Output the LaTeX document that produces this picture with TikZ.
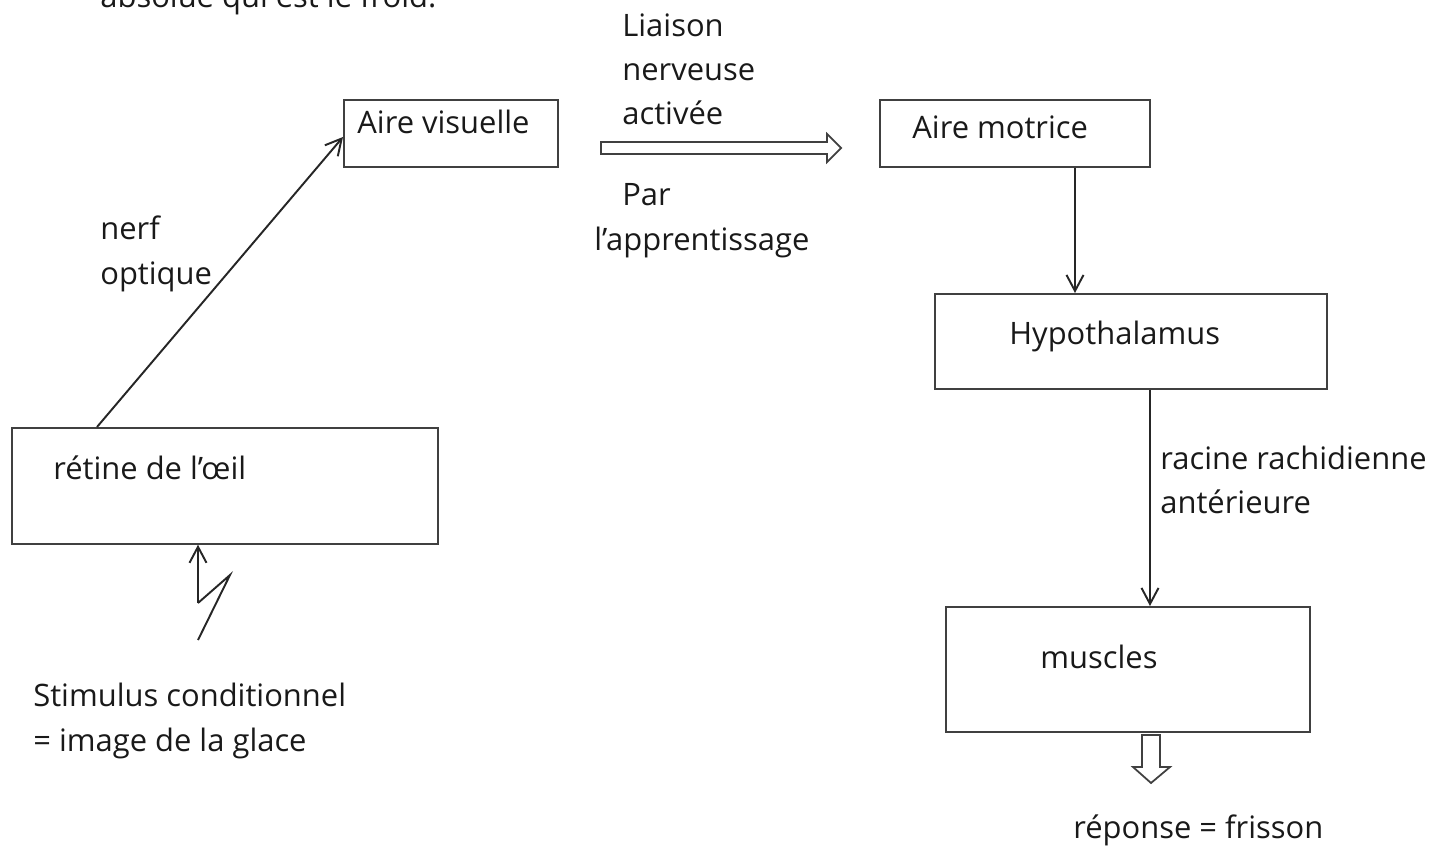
\documentclass[tikz,border=0pt]{standalone}
\usepackage{fontspec}
\setmainfont{Open Sans}
\usetikzlibrary{arrows.meta,calc}
\begin{document}
\begin{tikzpicture}[x=0.02cm,y=-0.02cm,
  lbl/.style={anchor=base west,inner sep=0pt,font=\fontsize{17.6}{21}\selectfont,text=black!90},
  box/.style={draw=black!75,line width=1pt,inner sep=0pt},
  link/.style={draw=black!85,line width=1.1pt,-{Straight Barb[length=3.2mm,width=3.4mm,line width=1.1pt]}},
  hollow/.style={draw=black!75,line width=1pt,fill=white,line join=miter}]
\useasboundingbox (0,0) rectangle (1446,845);
\clip (0,0) rectangle (1446,845);

% boxes
\node[box,minimum width=214*0.02cm,minimum height=67*0.02cm,anchor=north west] (vis) at (343,99) {};
\node[box,minimum width=270*0.02cm,minimum height=67*0.02cm,anchor=north west] (mot) at (879,99) {};
\node[box,minimum width=392*0.02cm,minimum height=95*0.02cm,anchor=north west] (hyp) at (934,293) {};
\node[box,minimum width=364*0.02cm,minimum height=125*0.02cm,anchor=north west] (mus) at (945,606) {};
\node[box,minimum width=426*0.02cm,minimum height=116*0.02cm,anchor=north west] (ret) at (11,427) {};

% labels
\node[lbl] (top) at (100,8) {absolue qui est le froid.};
\node[lbl] (tvis) at (357,133) {Aire visuelle};
\node[lbl] (tmot) at (912,138) {Aire motrice};
\node[lbl] (thyp) at (1009,344) {Hypothalamus};
\node[lbl] (tmus) at (1040,668) {muscles};
\node[lbl] (tret) at (53,479) {rétine de l’œil};
\node[lbl] (l1) at (622,36) {Liaison};
\node[lbl] (l2) at (622,80) {nerveuse};
\node[lbl] (l3) at (622,124) {activée};
\node[lbl] (l4) at (622,205) {Par};
\node[lbl] (l5) at (594,250) {l’apprentissage};
\node[lbl] (n1) at (100,239) {nerf};
\node[lbl] (n2) at (100,284) {optique};
\node[lbl] (r1) at (1160,469) {racine rachidienne};
\node[lbl] (r2) at (1160,513) {antérieure};
\node[lbl] (s1) at (33,706) {Stimulus conditionnel};
\node[lbl] (s2) at (33,751) {= image de la glace};
\node[lbl] (rep) at (1073,838) {réponse = frisson};

% connectors
\draw[link] ([xshift=86*0.02cm]ret.north west) -- ([yshift=-38*0.02cm]vis.north west);
\draw[link] ([xshift=196*0.02cm]mot.north west |- mot.south) -- ([xshift=141*0.02cm]hyp.north west);
\draw[link] ([xshift=216*0.02cm]hyp.north west |- hyp.south) -- ([xshift=205*0.02cm]mus.north west);

% stimulus: lightning bolt ending in an arrow on the retina
\coordinate (z1) at (198,640);
\coordinate (z2) at (230,575);
\coordinate (z3) at (198,603);
\draw[draw=black!85,line width=1.1pt] (z1) -- (z2) -- (z3);
\draw[link] (z3) -- (z3 |- ret.south);

% hollow block arrows
\draw[hollow] (601,142) -- (827,142) -- (827,134) -- (841,148) -- (827,162) -- (827,154) -- (601,154) -- cycle;
\draw[hollow] (1142,735) -- (1160,735) -- (1160,767) -- (1170,767) -- (1151,783) -- (1133,767) -- (1142,767) -- cycle;
\end{tikzpicture}
\end{document}
